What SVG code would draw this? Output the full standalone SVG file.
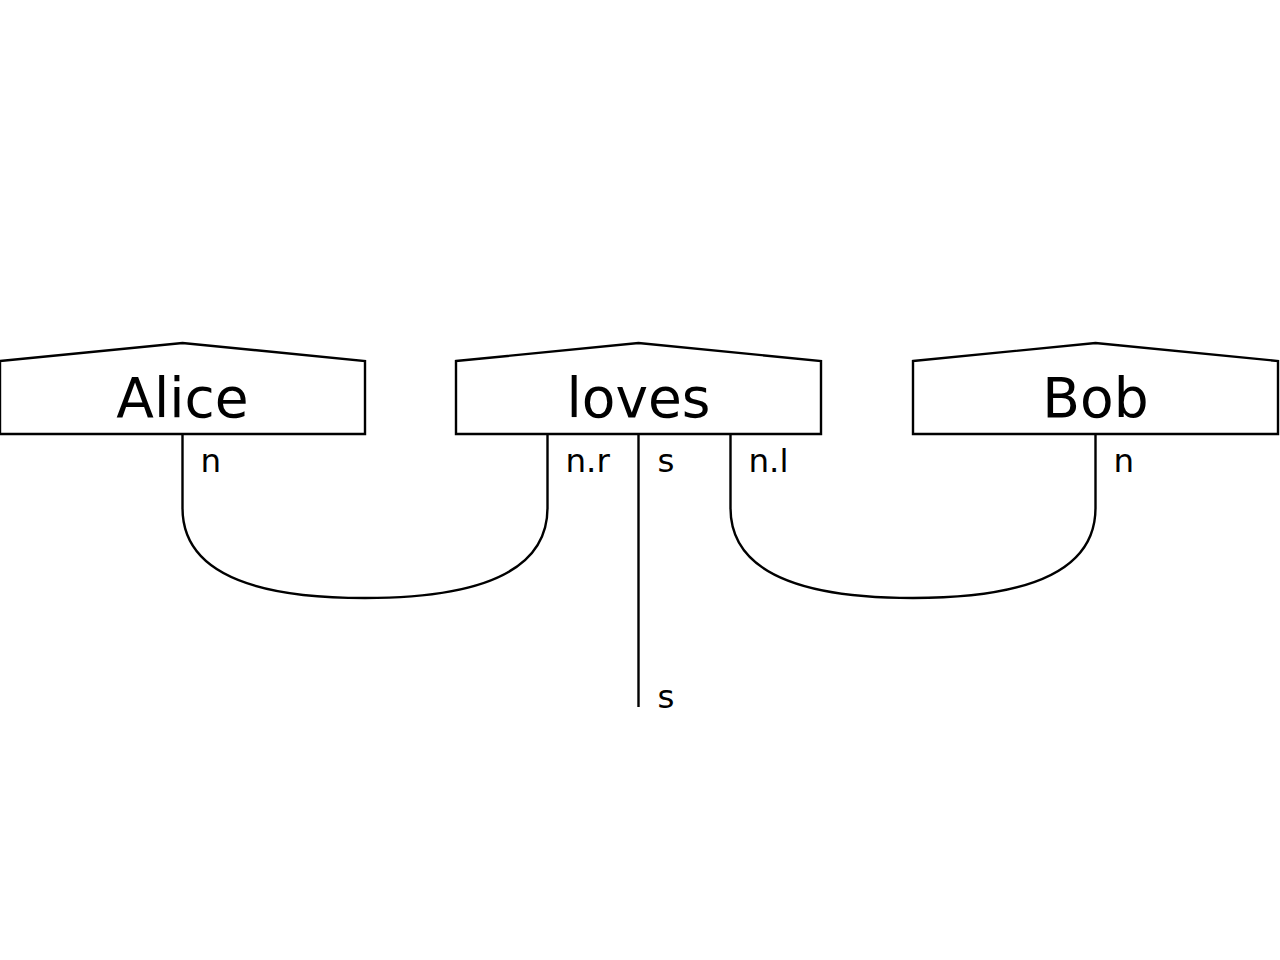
<svg xmlns="http://www.w3.org/2000/svg" width="1280" height="960" viewBox="0 0 1280 960">
<style>
.box{fill:#fff;stroke:#000;stroke-width:2.4;stroke-linejoin:miter}
.wire{fill:none;stroke:#000;stroke-width:2.4}
.name{font-family:"DejaVu Sans",sans-serif;font-size:55px;text-anchor:middle;fill:#000}
.lbl{font-family:"DejaVu Sans",sans-serif;font-size:32.5px;fill:#000}
</style>
<rect width="1280" height="960" fill="#fff"/>
<g id="connectors">
<path class="wire" d="M182.5,434 V508 Q182.5,598 365,598 Q547.5,598 547.5,508 V434"/>
<path class="wire" d="M730.5,434 V508 Q730.5,598 913,598 Q1095.5,598 1095.5,508 V434"/>
<path class="wire" d="M638.5,434 V707"/>
<text class="lbl" x="200.5" y="471.5">n</text>
<text class="lbl" x="565.5" y="471.5">n.r</text>
<text class="lbl" x="657.5" y="471.5">s</text>
<text class="lbl" x="748.5" y="471.5">n.l</text>
<text class="lbl" x="1113.5" y="471.5">n</text>
<text class="lbl" x="657.5" y="707.5">s</text>
</g>
<g id="alice">
<path class="box" d="M0,361 L182.5,343 L365,361 V434 H0 Z"/>
<text class="name" x="182.5" y="417">Alice</text>
</g>
<g id="loves">
<path class="box" d="M456,361 L638.5,343 L821,361 V434 H456 Z"/>
<text class="name" x="638.5" y="417">loves</text>
</g>
<g id="bob">
<path class="box" d="M913,361 L1095.5,343 L1278,361 V434 H913 Z"/>
<text class="name" x="1095.5" y="417">Bob</text>
</g>
</svg>
